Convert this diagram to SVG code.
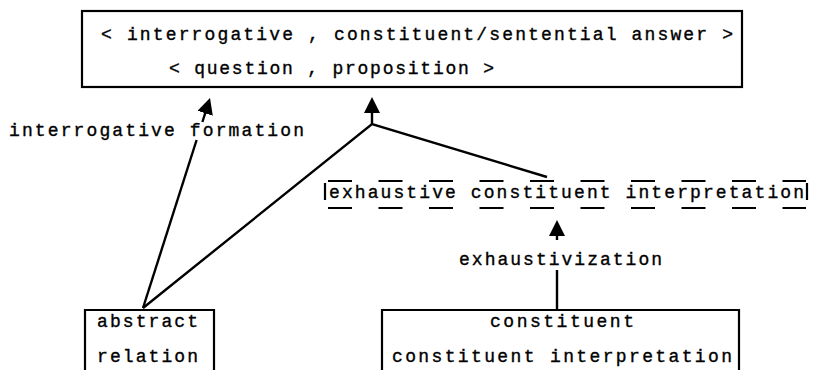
<svg xmlns="http://www.w3.org/2000/svg" width="815" height="370" viewBox="0 0 815 370">
<style>
  .t { font-family: "Liberation Mono", "DejaVu Sans Mono", monospace; font-size: 18px; fill: #000; stroke: #000; stroke-width: 0.35; }
  .box { fill: none; stroke: #000; stroke-width: 2.2; }
  .dash { fill: none; stroke: #000; stroke-width: 2.2; stroke-dasharray: 24 26.5; }
  .edge { fill: none; stroke: #000; stroke-width: 2.4; }
</style>
<defs>
  <marker id="ah" viewBox="0 0 16 16" markerWidth="16" markerHeight="16" refX="12" refY="8" markerUnits="userSpaceOnUse" orient="auto">
    <path d="M0,0 L16,8 L0,16 z" fill="#000"/>
  </marker>
</defs>
<rect width="815" height="370" fill="#fff"/>

<g id="pair-box">
  <rect class="box" x="82" y="11" width="660" height="76"/>
  <text class="t" x="101" y="40" textLength="632" lengthAdjust="spacing">&lt; interrogative , constituent/sentential answer &gt;</text>
  <text class="t" x="169" y="74" textLength="325" lengthAdjust="spacing">&lt; question , proposition &gt;</text>
</g>

<g id="exhaustive-box">
  <path class="dash" d="M328,181 H806 M328,208 H806"/>
  <path class="box" d="M325,183 V200 M807,183 V200"/>
  <text class="t" x="329" y="198" textLength="475" lengthAdjust="spacing">exhaustive constituent interpretation</text>
</g>

<g id="abstract-box">
  <path class="box" d="M85,372 V310 H214 V372"/>
  <text class="t" x="97" y="327" textLength="101" lengthAdjust="spacing">abstract</text>
  <text class="t" x="97" y="362" textLength="101" lengthAdjust="spacing">relation</text>
</g>

<g id="constituent-box">
  <path class="box" d="M382,372 V310 H739 V372"/>
  <text class="t" x="490" y="327" textLength="144" lengthAdjust="spacing">constituent</text>
  <text class="t" x="392" y="362" textLength="340" lengthAdjust="spacing">constituent interpretation</text>
</g>

<g id="connectors">
  <path class="edge" d="M143,308 L196.6,140"/>
  <path class="edge" d="M202.4,122 L208.8,101.8" marker-end="url(#ah)"/>
  <text class="t" x="9" y="136" textLength="295" lengthAdjust="spacing">interrogative formation</text>
  <path class="edge" d="M143,308 L372,124 L547,177"/>
  <path class="edge" d="M372,124 V101" marker-end="url(#ah)"/>
  <path class="edge" d="M557,310 V270"/>
  <path class="edge" d="M557,240 V224" marker-end="url(#ah)"/>
  <text class="t" x="459" y="265" textLength="203" lengthAdjust="spacing">exhaustivization</text>
</g>
</svg>
